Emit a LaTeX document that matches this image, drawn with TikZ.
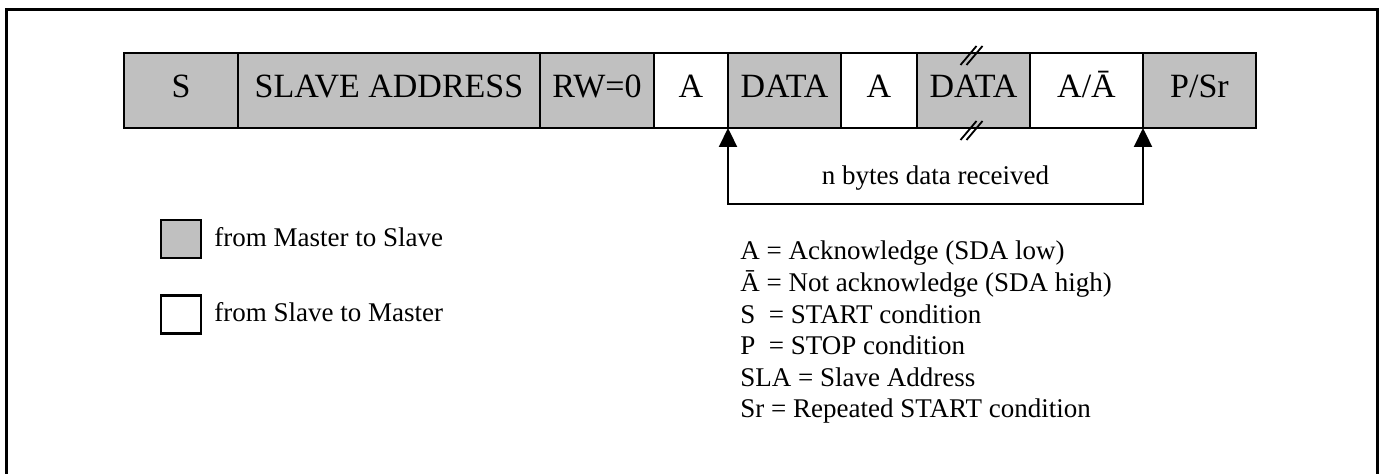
\documentclass[tikz,border=0pt]{standalone}
\usepackage{fontspec}
\setmainfont{Liberation Serif}
\usepackage{xcolor}
\usepackage{tikz}
\usetikzlibrary{arrows.meta,positioning}

\definecolor{mgrey}{HTML}{C0C0C0}

\begin{document}
\begin{tikzpicture}[
x=0.5pt,y=-0.5pt,
>={Triangle[length=9.5pt,width=9pt]},
every node/.style={font=\fontsize{13.5}{16}\selectfont},
field/.style={draw,line width=1.4pt,minimum height=37.5pt,inner sep=0pt,outer sep=0pt,
  text height=0.66em,text depth=0pt,font=\fontsize{17}{19}\selectfont},
mst/.style={field,fill=mgrey},
slv/.style={field,fill=white},
keybox/.style={draw,line width=1.4pt,minimum width=20pt,minimum height=19pt,inner sep=0pt},
note/.style={anchor=base west,inner sep=0pt}
]
\useasboundingbox (0,0) rectangle (1384,474);

% outer frame
\draw[line width=1.5pt] (6,490) -- (6,10) -- (1377,10) -- (1377,490);

% Frame fields
\node[mst,minimum width=57pt,anchor=north west] (s) at (124,53) {S};
\node[mst,minimum width=151pt,right=0pt of s] (sla) {SLAVE ADDRESS};
\node[mst,minimum width=57pt,right=0pt of sla] (rw) {RW=0};
\node[slv,minimum width=37pt,right=0pt of rw] (a1) {A};
\node[mst,minimum width=56.5pt,right=0pt of a1] (d1) {DATA};
\node[slv,minimum width=38pt,right=0pt of d1] (a2) {A};
\node[mst,minimum width=56.5pt,right=0pt of a2] (d2) {DATA};
\node[slv,minimum width=56.5pt,right=0pt of d2] (an) {A/Ā};
\node[mst,minimum width=56.5pt,right=0pt of an] (p) {P/Sr};

% break marks
\foreach \a in {north,south}
  \foreach \o in {0,6}
    \draw[line width=0.9pt] ([shift={(\o-13,12)}]d2.\a) -- ++(16,-19);

% n bytes
\draw[<->,line width=1.1pt] (d1.south west) -- ++(0,76)
  -| node[pos=0.25,above=3pt]{n bytes data received} (an.south east);

% Legend
\node[keybox,fill=mgrey] (km) at (181,239) {};
\node[keybox,fill=white] (ks) at (181,314.5) {};
\node[note] (tm) at (214,247) {from Master to Slave};
\node[note] (ts) at (214,322) {from Slave to Master};

% Abbreviations
\node[note] (l1) at (740,260) {A = Acknowledge (SDA low)};
\node[note] (l2) at (740,292) {Ā = Not acknowledge (SDA high)};
\node[note] (l3) at (740,323.5) {S\enspace = START condition};
\node[note] (l4) at (740,355) {P\enspace = STOP condition};
\node[note] (l5) at (740,386.5) {SLA = Slave Address};
\node[note] (l6) at (740,418) {Sr = Repeated START condition};

\end{tikzpicture}
\end{document}
